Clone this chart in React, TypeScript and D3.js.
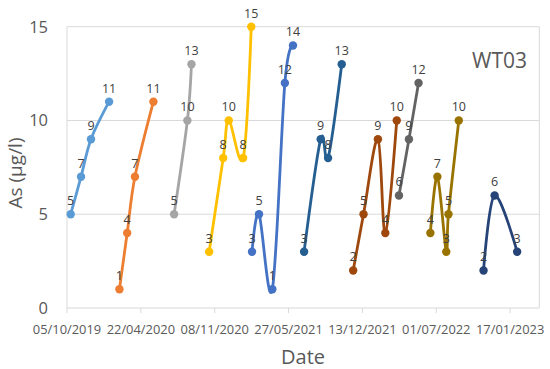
import * as d3 from "d3";
import { useEffect, useRef } from "react";

// one array pair per sampling campaign (dates, As in µg/l)
const s1Dates = ["2019-10-15", "2019-11-12", "2019-12-09", "2020-01-27"];
const s1Values = [5, 7, 9, 11];
const s2Dates = ["2020-02-24", "2020-03-16", "2020-04-06", "2020-05-26"];
const s2Values = [1, 4, 7, 11];
const s3Dates = ["2020-07-21", "2020-08-26", "2020-09-06"];
const s3Values = [5, 10, 13];
const s4Dates = ["2020-10-24", "2020-12-01", "2020-12-16", "2021-01-24", "2021-02-15"];
const s4Values = [3, 8, 10, 8, 15];
const s5Dates = ["2021-02-17", "2021-03-08", "2021-04-13", "2021-05-17", "2021-06-08"];
const s5Values = [3, 5, 1, 12, 14];
const s6Dates = ["2021-07-08", "2021-08-22", "2021-09-11", "2021-10-18"];
const s6Values = [3, 9, 8, 13];
const s7Dates = ["2021-11-18", "2021-12-16", "2022-01-24", "2022-02-13", "2022-03-16"];
const s7Values = [2, 5, 9, 4, 10];
const s8Dates = ["2022-03-22", "2022-04-18", "2022-05-14"];
const s8Values = [6, 9, 12];
const s9Dates = ["2022-06-15", "2022-07-04", "2022-07-28", "2022-08-03", "2022-08-31"];
const s9Values = [4, 7, 3, 5, 10];
const s10Dates = ["2022-11-06", "2022-12-06", "2023-02-05"];
const s10Values = [2, 6, 3];

const seriesColors = [
  "#5B9BD5", "#ED7D31", "#A5A5A5", "#FFC000", "#4472C4",
  "#255E91", "#9E480E", "#636363", "#997300", "#264478",
];
const xTickDates = [
  "2019-10-05", "2020-04-22", "2020-11-08", "2021-05-27",
  "2021-12-13", "2022-07-01", "2023-01-17",
];
const yTicks = [0, 5, 10, 15];

const allDates = [s1Dates, s2Dates, s3Dates, s4Dates, s5Dates, s6Dates, s7Dates, s8Dates, s9Dates, s10Dates];
const allValues = [s1Values, s2Values, s3Values, s4Values, s5Values, s6Values, s7Values, s8Values, s9Values, s10Values];

const FONT = "'Open Sans', 'Noto Sans', sans-serif";

const App = () => {
  const ref = useRef<SVGSVGElement>(null);

  useEffect(() => {
    const svg = d3.select(ref.current);
    svg.selectAll("*").remove();

    const margin = { top: 26.7, right: 10.7, bottom: 61, left: 67 };
    const width = 550,
      height = 369;
    const iw = width - margin.left - margin.right;
    const ih = height - margin.top - margin.bottom;

    const parse = d3.utcParse("%Y-%m-%d");
    const fmt = d3.utcFormat("%d/%m/%Y");

    const x = d3
      .scaleUtc()
      .domain([parse("2019-10-05")!, parse("2023-04-06")!])
      .range([0, iw]);
    const y = d3.scaleLinear().domain([0, 15]).range([ih, 0]);

    const g = svg
      .append("g")
      .attr("transform", `translate(${margin.left},${margin.top})`);

    // gridlines
    g.append("g")
      .selectAll("line")
      .data(yTicks.filter((t) => t > 0))
      .enter()
      .append("line")
      .attr("x1", 0)
      .attr("x2", iw)
      .attr("y1", (d) => y(d))
      .attr("y2", (d) => y(d))
      .attr("stroke", "#d9d9d9")
      .attr("stroke-width", 1);

    // plot border (right side)
    g.append("line")
      .attr("x1", iw)
      .attr("x2", iw)
      .attr("y1", 0)
      .attr("y2", ih)
      .attr("stroke", "#d9d9d9");
    // axis lines
    g.append("line")
      .attr("x1", 0)
      .attr("x2", 0)
      .attr("y1", 0)
      .attr("y2", ih)
      .attr("stroke", "#d9d9d9");
    g.append("line")
      .attr("x1", 0)
      .attr("x2", iw)
      .attr("y1", ih)
      .attr("y2", ih)
      .attr("stroke", "#d9d9d9");

    // x ticks
    const xt = g
      .append("g")
      .selectAll("g")
      .data(xTickDates.map((d) => parse(d)!))
      .enter()
      .append("g")
      .attr("transform", (d) => `translate(${x(d)},${ih})`);
    xt.append("line").attr("y1", 0).attr("y2", 5).attr("stroke", "#d9d9d9");
    xt.append("text")
      .attr("y", 26)
      .attr("text-anchor", "middle")
      .attr("font-family", FONT)
      .attr("font-size", 12.9)
      .attr("fill", "#595959")
      .text((d) => fmt(d));

    // y tick labels
    g.append("g")
      .selectAll("text")
      .data(yTicks)
      .enter()
      .append("text")
      .attr("x", -19)
      .attr("y", (d) => y(d))
      .attr("dy", "0.36em")
      .attr("text-anchor", "end")
      .attr("font-family", FONT)
      .attr("font-size", 16.5)
      .attr("fill", "#595959")
      .text((d) => d);

    const line = d3
      .line<[Date, number]>()
      .x((d) => x(d[0]))
      .y((d) => y(d[1]))
      .curve(d3.curveCardinal.tension(0));

    allDates.forEach((dates, i) => {
      const pts: [Date, number][] = dates.map((d, j) => [parse(d)!, allValues[i][j]]);
      const col = seriesColors[i];
      g.append("path")
        .datum(pts)
        .attr("d", line)
        .attr("fill", "none")
        .attr("stroke", col)
        .attr("stroke-width", 2.8)
        .attr("stroke-linejoin", "round");
      g.append("g")
        .selectAll("circle")
        .data(pts)
        .enter()
        .append("circle")
        .attr("cx", (d) => x(d[0]))
        .attr("cy", (d) => y(d[1]))
        .attr("r", 4.2)
        .attr("fill", col);
      g.append("g")
        .selectAll("text")
        .data(pts)
        .enter()
        .append("text")
        .attr("x", (d) => x(d[0]))
        .attr("y", (d) => y(d[1]) - 9)
        .attr("text-anchor", "middle")
        .attr("font-family", FONT)
        .attr("font-size", 12.5)
        .attr("fill", "#404040")
        .text((d) => d[1]);
    });

    // station name
    svg
      .append("text")
      .attr("x", 527)
      .attr("y", 68)
      .attr("text-anchor", "end")
      .attr("font-family", FONT)
      .attr("font-size", 21)
      .attr("fill", "#595959")
      .text("WT03");

    // axis titles
    svg
      .append("text")
      .attr("x", 303)
      .attr("y", 364)
      .attr("text-anchor", "middle")
      .attr("font-family", FONT)
      .attr("font-size", 20)
      .attr("fill", "#595959")
      .text("Date");
    svg
      .append("text")
      .attr("transform", "translate(22,173) rotate(-90)")
      .attr("text-anchor", "middle")
      .attr("font-family", FONT)
      .attr("font-size", 19)
      .attr("fill", "#595959")
      .text("As (µg/l)");
  }, []);

  return (
    <svg
      ref={ref}
      width={550}
      height={369}
      style={{ position: "absolute", left: 0, top: 0, background: "#fff" }}
    />
  );
};

export default App;
